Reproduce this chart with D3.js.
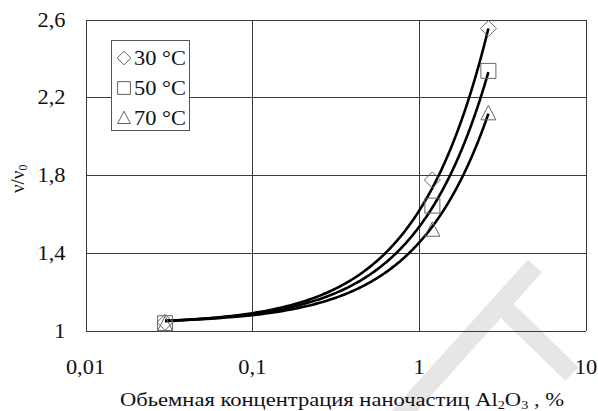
<!DOCTYPE html>
<html>
<head>
<meta charset="utf-8">
<script src="https://cdn.jsdelivr.net/npm/d3@7/dist/d3.min.js"></script>
<style>
  body { margin: 0; background: #fff; }
  svg { display: block; }
</style>
</head>
<body>
<div class="graphic__chart"></div>
<script>
// concentration of Al2O3, %
const concentration = [0.03, 1.2, 2.6]
const series = ['30 °C', '50 °C', '70 °C']
const ratio30 = [1.045, 1.776, 2.554]
const ratio50 = [1.04, 1.644, 2.336]
const ratio70 = [1.035, 1.52, 2.118]
const symbols = ['diamond', 'square', 'triangle']

// linear trend lines y = a + b*x
const trendA = [1.033, 1.038, 1.04]
const trendB = [0.585, 0.497, 0.414]

const xTicks = [0.01, 0.1, 1, 10]
const xTickLabels = ['0,01', '0,1', '1', '10']
const yTicks = [1, 1.4, 1.8, 2.2, 2.6]
const yTickLabels = ['1', '1,4', '1,8', '2,2', '2,6']

const WIDTH = 598
const HEIGHT = 411
const margin = { top: 19.5, right: 12, bottom: 80, left: 85.5 }
const FONT = 'Liberation Serif'
const FONT_SIZE = 20
const STRETCH = 1.12 // the source type is a little wide

const GRID = '#3a3a3a'
const MARKER = '#666'
const INK = '#111'

const rows = series.map((name, i) => ({
	name,
	symbol: symbols[i],
	values: [ratio30, ratio50, ratio70][i],
	a: trendA[i],
	b: trendB[i]
}))

const svg = d3.select('.graphic__chart').append('svg')
	.attr('width', WIDTH)
	.attr('height', HEIGHT)
	.attr('font-family', FONT)

const x = d3.scaleLog().domain([0.01, 10]).range([margin.left, WIDTH - margin.right])
const y = d3.scaleLinear().domain([1, 2.6]).range([HEIGHT - margin.bottom, margin.top])

// watermark behind everything
const wm = svg.append('g').attr('class', 'watermark')
	.attr('stroke', '#e6e6e6')
	.attr('stroke-width', 19)
	.attr('fill', 'none')
wm.append('path').attr('d', 'M398,418 L535,266')
wm.append('path').attr('d', 'M498,302 L572,374')

// grid
const grid = svg.append('g').attr('class', 'grid')
	.attr('stroke', GRID)
	.attr('stroke-width', 1)
	.attr('shape-rendering', 'crispEdges')

grid.selectAll('.h').data(yTicks).enter().append('line')
	.attr('x1', x.range()[0]).attr('x2', x.range()[1])
	.attr('y1', d => Math.round(y(d)) + 0.5).attr('y2', d => Math.round(y(d)) + 0.5)

grid.selectAll('.v').data(xTicks).enter().append('line')
	.attr('y1', y.range()[1]).attr('y2', y.range()[0])
	.attr('x1', d => Math.round(x(d)) + 0.5).attr('x2', d => Math.round(x(d)) + 0.5)

// tick labels
svg.append('g').attr('class', 'axis axis--y')
	.selectAll('text').data(yTicks).enter().append('text')
	.attr('transform', d => `translate(${margin.left - 20},${y(d)}) scale(${STRETCH},1)`)
	.attr('dy', '0.35em')
	.attr('text-anchor', 'end')
	.attr('font-family', FONT)
	.attr('font-size', FONT_SIZE)
	.attr('fill', INK)
	.text((d, i) => yTickLabels[i])

svg.append('g').attr('class', 'axis axis--x')
	.selectAll('text').data(xTicks).enter().append('text')
	.attr('transform', d => `translate(${x(d)},374) scale(${STRETCH},1)`)
	.attr('text-anchor', 'middle')
	.attr('font-family', FONT)
	.attr('font-size', FONT_SIZE)
	.attr('fill', INK)
	.text((d, i) => xTickLabels[i])

// axis titles
const xTitle = svg.append('text')
	.attr('class', 'label--x')
	.attr('x', 120)
	.attr('y', 406)
	.attr('font-family', FONT)
	.attr('font-size', 19)
	.attr('fill', INK)
	.attr('textLength', 444)
	.attr('lengthAdjust', 'spacingAndGlyphs')
xTitle.append('tspan').text('Обьемная концентрация наночастиц Al')
xTitle.append('tspan').attr('font-size', 12).attr('dy', 2.5).text('2')
xTitle.append('tspan').attr('dy', -2.5).text('O')
xTitle.append('tspan').attr('font-size', 12).attr('dy', 2.5).text('3')
xTitle.append('tspan').attr('dy', -2.5).text(' , %')

const yTitle = svg.append('text')
	.attr('class', 'label--y')
	.attr('transform', 'translate(24,193) rotate(-90)')
	.attr('font-family', FONT)
	.attr('font-size', 19)
	.attr('fill', INK)
yTitle.append('tspan').text('ν/ν')
yTitle.append('tspan').attr('font-size', 12).attr('dy', 3).text('0')

// trend lines, straight in x, so they bend on the log axis
const line = d3.line().x(d => x(d[0])).y(d => y(d[1]))
const lo = d3.min(concentration)
const hi = d3.max(concentration)
const steps = x.copy().domain([lo, hi]).ticks(200).concat([lo, hi]).sort(d3.ascending)

const trends = svg.append('g').attr('class', 'trends')
rows.forEach(r => {
	trends.append('path')
		.attr('fill', 'none')
		.attr('stroke', '#000')
		.attr('stroke-width', 2.6)
		.attr('d', line(steps.map(c => [c, r.a + r.b * c])))
})

// markers
function markerPath(type) {
	if (type === 'diamond') return 'M0,-8L8,0L0,8L-8,0Z'
	if (type === 'square') return 'M-7.5,-7.5H7.5V7.5H-7.5Z'
	return 'M0,-8L7.5,6.5H-7.5Z'
}

rows.forEach(r => {
	svg.append('g').attr('class', 'g-points')
		.selectAll('path').data(r.values).enter().append('path')
		.attr('d', markerPath(r.symbol))
		.attr('transform', (d, i) => `translate(${x(concentration[i])},${y(d)})`)
		.attr('fill', 'none')
		.attr('stroke', MARKER)
		.attr('stroke-width', 1)
})

// legend
const legend = svg.append('g').attr('class', 'legend')
legend.append('rect')
	.attr('x', 111.5).attr('y', 40.5)
	.attr('width', 78).attr('height', 90)
	.attr('fill', '#fff')
	.attr('stroke', '#555')

const item = legend.selectAll('.item').data(rows).enter().append('g')
	.attr('class', 'item')
	.attr('transform', (d, i) => `translate(124,${58 + i * 30})`)

item.append('path')
	.attr('d', d => markerPath(d.symbol))
	.attr('transform', 'scale(0.85)')
	.attr('fill', 'none')
	.attr('stroke', '#444')

item.append('text')
	.attr('transform', `translate(10,0) scale(${STRETCH},1)`)
	.attr('dy', '0.35em')
	.attr('font-family', FONT)
	.attr('font-size', FONT_SIZE)
	.attr('fill', INK)
	.text(d => d.name)
</script>
</body>
</html>
